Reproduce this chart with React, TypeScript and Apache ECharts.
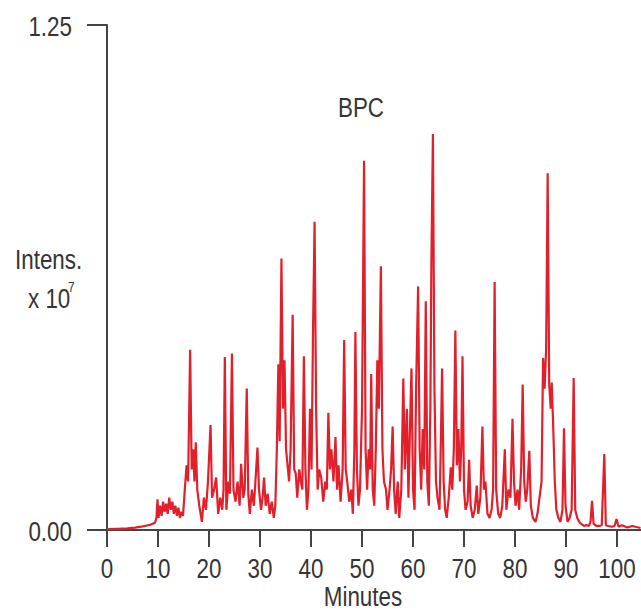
import React, { useEffect, useRef } from "react";
import * as echarts from "echarts";

// [minutes, intensity (x 10^7)]
const baselineSegment: number[][] = [
  [0, 0.002], [2, 0.003], [4, 0.004], [5.5, 0.006], [7, 0.009], [8.5, 0.013], [9.4, 0.018], [9.7, 0.03],
  [9.9, 0.076], [10.1, 0.03], [10.4, 0.06], [10.7, 0.035], [11.0, 0.07], [11.3, 0.045], [11.6, 0.065],
  [11.9, 0.04], [12.2, 0.08], [12.5, 0.05], [12.8, 0.07], [13.1, 0.04], [13.4, 0.06], [13.7, 0.035],
  [14.0, 0.055], [14.3, 0.03], [14.6, 0.045], [14.9, 0.035],
];
const segment15to30: number[][] = [
  [15.2, 0.09], [15.6, 0.16], [15.9, 0.12], [16.3, 0.446], [16.6, 0.15], [16.9, 0.2], [17.15, 0.12],
  [17.4, 0.217], [17.7, 0.1], [18.1, 0.06], [18.6, 0.02], [19.0, 0.08], [19.4, 0.05], [19.8, 0.12],
  [20.3, 0.26], [20.6, 0.08], [21.0, 0.1], [21.4, 0.13], [21.8, 0.04], [22.2, 0.08], [22.6, 0.05],
  [22.85, 0.1], [23.1, 0.428], [23.4, 0.05], [23.8, 0.12], [24.1, 0.09], [24.5, 0.437], [24.8, 0.1],
  [25.2, 0.07], [25.6, 0.12], [26.0, 0.06], [26.3, 0.164], [26.7, 0.08], [27.0, 0.1], [27.4, 0.35],
  [27.7, 0.09], [28.0, 0.04], [28.4, 0.1], [28.8, 0.06], [29.1, 0.12], [29.5, 0.204], [29.8, 0.1],
];
const segment30to50: number[][] = [
  [30.2, 0.05], [30.5, 0.08], [30.8, 0.13], [31.1, 0.06], [31.5, 0.09], [31.9, 0.04], [32.3, 0.07],
  [32.7, 0.03], [33.0, 0.06], [33.3, 0.2], [33.6, 0.41], [33.85, 0.22], [34.2, 0.672], [34.5, 0.3],
  [34.8, 0.42], [35.1, 0.2], [35.4, 0.16], [35.7, 0.12], [36.0, 0.2], [36.4, 0.533], [36.7, 0.15],
  [37.0, 0.14], [37.3, 0.08], [37.7, 0.15], [38.0, 0.12], [38.3, 0.1], [38.6, 0.43], [38.9, 0.15],
  [39.2, 0.05], [39.5, 0.1], [39.8, 0.3], [40.1, 0.15], [40.4, 0.5], [40.7, 0.763], [41.0, 0.3],
  [41.3, 0.1], [41.6, 0.15], [42.0, 0.13], [42.4, 0.07], [42.8, 0.12], [43.1, 0.1], [43.4, 0.29],
  [43.7, 0.15], [44.0, 0.2], [44.4, 0.12], [44.8, 0.23], [45.1, 0.1], [45.4, 0.16], [45.8, 0.07],
  [46.2, 0.15], [46.5, 0.47], [46.8, 0.15], [47.1, 0.12], [47.5, 0.07], [47.9, 0.1], [48.2, 0.04],
  [48.5, 0.2], [48.7, 0.49], [49.0, 0.15], [49.3, 0.06], [49.6, 0.1],
];
const segment50to70: number[][] = [
  [50.0, 0.3], [50.4, 0.914], [50.7, 0.2], [51.0, 0.1], [51.3, 0.2], [51.6, 0.15], [51.8, 0.386],
  [52.1, 0.1], [52.4, 0.06], [52.7, 0.2], [53.0, 0.42], [53.3, 0.3], [53.7, 0.653], [54.0, 0.2],
  [54.3, 0.12], [54.7, 0.1], [55.0, 0.05], [55.4, 0.1], [55.7, 0.15], [56.0, 0.256], [56.3, 0.1],
  [56.6, 0.04], [57.0, 0.12], [57.3, 0.03], [57.7, 0.1], [58.1, 0.375], [58.4, 0.15], [58.8, 0.3],
  [59.1, 0.08], [59.4, 0.25], [59.7, 0.4], [60.0, 0.1], [60.3, 0.05], [60.6, 0.35], [61.0, 0.603],
  [61.3, 0.2], [61.6, 0.1], [61.9, 0.25], [62.2, 0.15], [62.5, 0.566], [62.8, 0.12], [63.1, 0.06],
  [63.4, 0.3], [63.6, 0.66], [63.9, 0.98], [64.2, 0.35], [64.5, 0.12], [64.8, 0.08], [65.2, 0.05],
  [65.5, 0.25], [65.7, 0.4], [66.0, 0.12], [66.3, 0.05], [66.6, 0.03], [67.0, 0.08], [67.4, 0.155],
  [67.7, 0.1], [68.0, 0.2], [68.3, 0.494], [68.6, 0.16], [68.9, 0.25], [69.2, 0.12], [69.45, 0.2],
  [69.7, 0.43], [70.0, 0.1],
];
const segment70to90: number[][] = [
  [70.3, 0.05], [70.7, 0.07], [71.0, 0.174], [71.3, 0.06], [71.7, 0.03], [72.1, 0.05], [72.5, 0.11],
  [72.8, 0.04], [73.2, 0.08], [73.6, 0.256], [73.9, 0.1], [74.2, 0.12], [74.6, 0.04], [75.0, 0.03],
  [75.4, 0.05], [75.7, 0.1], [76.0, 0.614], [76.3, 0.1], [76.7, 0.04], [77.1, 0.03], [77.5, 0.06],
  [78.0, 0.2], [78.3, 0.05], [78.7, 0.1], [79.1, 0.08], [79.5, 0.275], [79.8, 0.12], [80.1, 0.06],
  [80.5, 0.1], [80.8, 0.05], [81.2, 0.15], [81.5, 0.36], [81.8, 0.12], [82.1, 0.07], [82.4, 0.1],
  [82.8, 0.196], [83.1, 0.06], [83.5, 0.03], [84.0, 0.02], [84.4, 0.04], [84.8, 0.08], [85.2, 0.12],
  [85.5, 0.426], [85.8, 0.35], [86.1, 0.45], [86.4, 0.883], [86.7, 0.36], [87.0, 0.3], [87.2, 0.365],
  [87.5, 0.25], [87.8, 0.12], [88.1, 0.05], [88.5, 0.03], [88.9, 0.02], [89.3, 0.05], [89.6, 0.252],
  [89.9, 0.06],
];
const segment90toEnd: number[][] = [
  [90.3, 0.02], [90.7, 0.03], [91.1, 0.05], [91.5, 0.376], [91.8, 0.05], [92.2, 0.03], [92.6, 0.02],
  [93.0, 0.015], [93.5, 0.01], [94.0, 0.012], [94.5, 0.01], [94.8, 0.02], [95.1, 0.072], [95.4, 0.015],
  [96.0, 0.01], [96.5, 0.01], [97.0, 0.012], [97.5, 0.188], [97.8, 0.012], [98.3, 0.01], [99.0, 0.008],
  [99.5, 0.01], [99.9, 0.027], [100.3, 0.008], [101, 0.012], [102, 0.006], [103, 0.01], [104.6, 0.005],
];

const xTickValues = [0, 10, 20, 30, 40, 50, 60, 70, 80, 90, 100];
const yTickValues = [0, 1.25];
const traceName = "BPC";
const xAxisTitle = "Minutes";
const yAxisTitle = "Intens.";
const yAxisUnit = "x 10";
const yAxisExponent = "7";

const FONT = "'Liberation Sans', Arial, sans-serif";
const TEXT = "#353535";
const AXIS = "#444";
const NARROW = 0.8; // condensed look of the original typeface

function label(text: string, x: number, y: number, align: string, size = 28) {
  return {
    type: "text",
    x,
    y,
    scaleX: NARROW,
    silent: true,
    style: { text, fontSize: size, fontFamily: FONT, fill: TEXT, align, verticalAlign: "middle" },
  };
}

export default function App() {
  const ref = useRef<HTMLDivElement>(null);
  useEffect(() => {
    if (!ref.current) return;
    const chart = echarts.init(ref.current, null, { renderer: "svg" });
    const data = [
      ...baselineSegment,
      ...segment15to30,
      ...segment30to50,
      ...segment50to70,
      ...segment70to90,
      ...segment90toEnd,
    ];
    chart.setOption({
      animation: false,
      backgroundColor: "#fff",
      grid: { left: 107, top: 25, right: 0.5, bottom: 85, containLabel: false, outerBoundsMode: "none" },
      xAxis: {
        type: "value",
        min: 0,
        max: 104.6,
        interval: 10,
        splitLine: { show: false },
        axisLine: { show: true, onZero: false, lineStyle: { color: AXIS, width: 2 } },
        axisTick: { show: true, inside: false, length: 17, customValues: xTickValues, lineStyle: { color: AXIS, width: 2 } },
        axisLabel: { show: false },
      },
      yAxis: {
        type: "value",
        min: 0,
        max: 1.25,
        interval: 1.25,
        splitLine: { show: false },
        axisLine: { show: true, lineStyle: { color: AXIS, width: 2 } },
        axisTick: { show: true, inside: false, length: 20, customValues: yTickValues, lineStyle: { color: AXIS, width: 2 } },
        axisLabel: { show: false },
      },
      series: [
        {
          type: "line",
          name: traceName,
          data,
          showSymbol: false,
          symbol: "none",
          clip: true,
          lineStyle: { color: "#e2202b", width: 2.2 },
          emphasis: { disabled: true },
        },
      ],
    });

    // tick labels placed through the axes' own scales
    const graphics: any[] = [];
    xTickValues.forEach((v) => {
      const px = chart.convertToPixel({ xAxisIndex: 0 }, v) as number;
      graphics.push(label(String(v), px, 568, "center"));
    });
    yTickValues.forEach((v) => {
      const py = chart.convertToPixel({ yAxisIndex: 0 }, v) as number;
      graphics.push(label(v.toFixed(2), 72, py + 1, "right"));
    });
    graphics.push(label(traceName, 361, 107, "center"));
    graphics.push(label(xAxisTitle, 363, 596, "center"));
    graphics.push(label(yAxisTitle, 15, 259, "left"));
    graphics.push(label(yAxisUnit, 28, 298, "left"));
    graphics.push(label(yAxisExponent, 68, 287, "left", 15));
    chart.setOption({ graphic: graphics });

    return () => chart.dispose();
  }, []);
  return <div ref={ref} style={{ position: "fixed", left: 0, top: 0, width: 641, height: 615 }} />;
}
